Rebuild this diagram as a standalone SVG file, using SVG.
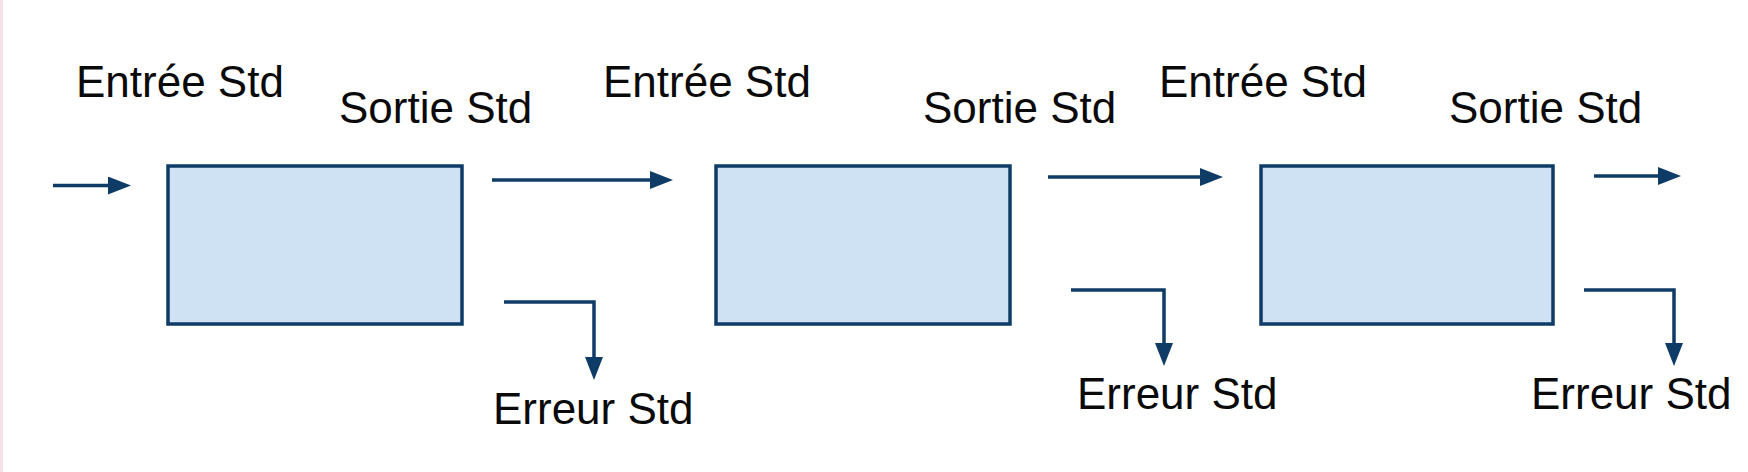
<svg xmlns="http://www.w3.org/2000/svg" width="1748" height="472" viewBox="0 0 1748 472">
<style>
.box{fill:#cfe2f3;stroke:#0f3b67;stroke-width:3.5}
.con{fill:none;stroke:#0f3b67;stroke-width:3.5;marker-end:url(#ah)}
.lbl{font-family:"Liberation Sans",Arial,sans-serif;font-size:44px;fill:#0a0a0a}
</style>
<defs>
<marker id="ah" markerUnits="userSpaceOnUse" markerWidth="25" markerHeight="19" refX="5" refY="9" orient="auto">
<path d="M0,0 L23,9 L0,18 z" fill="#0f3b67"/>
</marker>
</defs>
<rect x="0" y="0" width="1748" height="472" fill="#ffffff"/>
<line x1="1.5" y1="0" x2="1.5" y2="472" stroke="#f7e1e8" stroke-width="3"/>
<g id="node1">
<rect class="box" x="168" y="166" width="294" height="158"/>
</g>
<g id="node2">
<rect class="box" x="716" y="166" width="294" height="158"/>
</g>
<g id="node3">
<rect class="box" x="1261" y="166" width="292" height="158"/>
</g>
<g id="connectors">
<path class="con" d="M53,185.5 H113"/>
<path class="con" d="M492,180 H655"/>
<path class="con" d="M504,302 H594 V362"/>
<path class="con" d="M1048,177 H1205"/>
<path class="con" d="M1071,290 H1164 V348"/>
<path class="con" d="M1594,176 H1663"/>
<path class="con" d="M1584,290 H1674 V348"/>
</g>
<g id="labels">
<text class="lbl" x="76" y="97">Entrée Std</text>
<text class="lbl" x="339" y="123">Sortie Std</text>
<text class="lbl" x="493" y="424">Erreur Std</text>
<text class="lbl" x="603" y="97">Entrée Std</text>
<text class="lbl" x="923" y="123">Sortie Std</text>
<text class="lbl" x="1077" y="409">Erreur Std</text>
<text class="lbl" x="1159" y="97">Entrée Std</text>
<text class="lbl" x="1449" y="123">Sortie Std</text>
<text class="lbl" x="1531" y="409">Erreur Std</text>
</g>
</svg>
